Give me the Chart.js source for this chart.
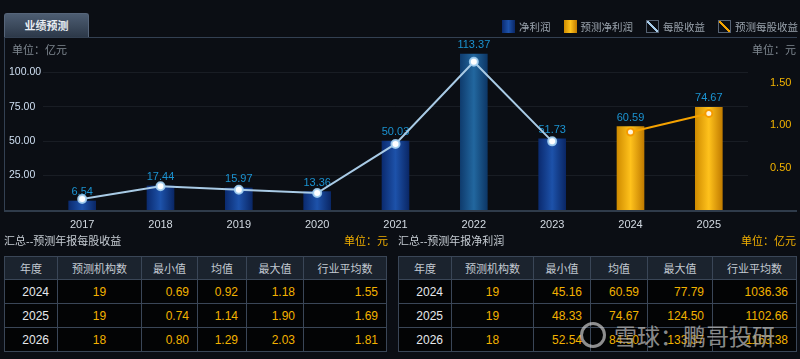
<!DOCTYPE html>
<html>
<head>
<meta charset="utf-8">
<script src="https://cdn.jsdelivr.net/npm/chart.js@4.4.1/dist/chart.umd.min.js"></script>
<style>
  body { margin: 0; background: #0b0e14; width: 800px; height: 359px; overflow: hidden; position: relative;
         font-family: "Liberation Sans", "Noto Sans CJK SC", sans-serif; }
  .abs { position: absolute; white-space: nowrap; }
  .tab { left: 4px; top: 13px; width: 83px; height: 24px; border: 1px solid #56657a; border-bottom: none;
         border-radius: 3px 3px 0 0; background: linear-gradient(#4d5d72, #2b3747);
         color: #e8edf2; font-size: 11px; font-weight: bold; line-height: 24px; text-align: center; }
  .panel { left: 4px; top: 37px; width: 792px; height: 172px; border-top: 1px solid #334052;
           border-left: 1px solid #334052; border-bottom: 2px solid #2f3b4a; }
  /* chart area sits 6px below the canvas top, so the canvas starts at 32 */
  #wrap { position: absolute; left: 0; top: 32px; width: 800px; height: 206px; }
  .unit { color: #7f8891; font-size: 11px; top: 41px; }
  .legend { top: 19px; font-size: 10.5px; color: #9aa3ad; display: flex; align-items: center; }
  .legend span.box { display: inline-block; width: 13px; height: 13px; margin: 0 4px 0 13px; box-sizing: border-box; }
  .caption { top: 232px; font-size: 11px; color: #c6ccd3; }
  .gold { color: #f2b000; }
  table { position: absolute; top: 256px; border-collapse: collapse; table-layout: fixed; font-size: 12px; }
  td, th { border: 1px solid #3a4657; height: 23px; padding: 0 8px; }
  th { background: #1b232e; color: #c3cad2; font-weight: normal; font-size: 11px; text-align: center; height: 22px; }
  td { background: #030405; color: #f2b200; text-align: right; }
  td.yr { color: #e6e9ec; }
  td.cnt { text-align: center; }
  .mark { left: 580px; top: 318px; color: rgba(228,228,228,0.62); font-size: 23px;
          font-family: "Noto Sans CJK SC", sans-serif; text-shadow: 0 0 2px rgba(0,0,0,0.7); display: flex; align-items: center; }
  .mark i { display: inline-block; width: 20px; height: 20px; border: 3px solid rgba(228,228,228,0.62);
            border-radius: 50%; margin-right: 8px; }
</style>
</head>
<body>
<div class="abs tab">业绩预测</div>
<div class="abs panel"></div>
<div id="wrap"><canvas id="perfChart"></canvas></div>

<div class="abs legend" style="left:489px">
  <span class="box" style="background:linear-gradient(90deg,#0b2b70,#1d52aa,#0a2766)"></span>净利润
  <span class="box" style="background:linear-gradient(90deg,#d08c00,#ffc21c,#c27c00)"></span>预测净利润
  <span class="box" style="border:1px solid #566273;background:linear-gradient(to top right,transparent 42%,#a9cdea 44%,#a9cdea 56%,transparent 58%)"></span>每股收益
  <span class="box" style="border:1px solid #566273;background:linear-gradient(to top right,transparent 42%,#f4a300 44%,#f4a300 56%,transparent 58%)"></span>预测每股收益
</div>
<div class="abs unit" style="left:12px">单位：亿元</div>
<div class="abs unit" style="left:752px">单位：元</div>

<div class="abs caption" style="left:4px">汇总--预测年报每股收益</div>
<div class="abs caption gold" style="left:344px">单位：元</div>
<div class="abs caption" style="left:398px">汇总--预测年报净利润</div>
<div class="abs caption gold" style="left:741px">单位：亿元</div>

<table id="epsTable" style="left:4px;width:383px"></table>
<table id="profitTable" style="left:398px;width:398px"></table>

<div class="abs mark"><i></i>雪球：鹏哥投研</div>

<script>
// chart data
const years = ['2017', '2018', '2019', '2020', '2021', '2022', '2023', '2024', '2025'];
const netProfit = [6.54, 17.44, 15.97, 13.36, 50.03, 113.37, 51.73, null, null];
const forecastProfit = [null, null, null, null, null, null, null, 60.59, 74.67];
const eps = [0.13, 0.28, 0.24, 0.20, 0.78, 1.75, 0.81, null, null];
const forecastEps = [null, null, null, null, null, null, null, 0.92, 1.14];

// summary tables
const headers = ['年度', '预测机构数', '最小值', '均值', '最大值', '行业平均数'];
const tableYears = ['2024', '2025', '2026'];
const orgCount = [19, 19, 18];
const epsMin = ['0.69', '0.74', '0.80'];
const epsMean = ['0.92', '1.14', '1.29'];
const epsMax = ['1.18', '1.90', '2.03'];
const epsIndustry = ['1.55', '1.69', '1.81'];
const profitMin = ['45.16', '48.33', '52.54'];
const profitMean = ['60.59', '74.67', '84.50'];
const profitMax = ['77.79', '124.50', '133.37'];
const profitIndustry = ['1036.36', '1102.66', '1163.38'];

function fillTable(id, widths, cols) {
  const t = document.getElementById(id);
  let html = '<colgroup>' + widths.map(w => '<col style="width:' + w + 'px">').join('') + '</colgroup>';
  html += '<tr>' + headers.map(h => '<th>' + h + '</th>').join('') + '</tr>';
  tableYears.forEach((y, i) => {
    html += '<tr><td class="yr">' + y + '</td><td class="cnt">' + orgCount[i] + '</td>' +
      cols.map(c => '<td>' + c[i] + '</td>').join('') + '</tr>';
  });
  t.innerHTML = html;
}
fillTable('epsTable', [53, 84, 56, 49, 57, 83], [epsMin, epsMean, epsMax, epsIndustry]);
fillTable('profitTable', [53, 82, 57, 57, 65, 84], [profitMin, profitMean, profitMax, profitIndustry]);

const numFont = "'Liberation Sans', 'Noto Sans CJK SC', sans-serif";
const topBar = netProfit.indexOf(Math.max(...netProfit.filter(v => v != null)));

function barFill(stops, hiStops) {
  return function (context) {
    const chart = context.chart;
    if (context.type !== 'data' || !chart.chartArea) return stops[1];
    const s = context.dataIndex === topBar && hiStops ? hiStops : stops;
    const x = chart.scales.x.getPixelForValue(context.dataIndex);
    const g = chart.ctx.createLinearGradient(x - 13.5, 0, x + 13.5, 0);
    g.addColorStop(0, s[0]);
    g.addColorStop(0.5, s[1]);
    g.addColorStop(1, s[2]);
    return g;
  };
}

// values over the bars, drawn before the lines
const barLabels = {
  id: 'barLabels',
  afterDatasetDraw(chart, args) {
    if (args.meta.type !== 'bar') return;
    const ds = chart.data.datasets[args.index];
    const c = chart.ctx;
    c.save();
    c.font = '11px ' + numFont;
    c.fillStyle = '#1b93d1';
    c.textAlign = 'center';
    c.textBaseline = 'middle';
    args.meta.data.forEach((el, i) => {
      if (ds.data[i] == null) return;
      c.fillText(ds.data[i].toFixed(2), el.x, el.y - 9);
    });
    c.restore();
  }
};

function keepInner(max) {
  return function (scale) {
    scale.ticks = scale.ticks.filter(t => t.value > 0 && t.value < max - 0.1);
  };
}

new Chart(document.getElementById('perfChart'), {
  data: {
    labels: years,
    datasets: [
      { type: 'line', label: '每股收益', data: eps, yAxisID: 'y1', order: 0,
        borderColor: '#a9cbe6', borderWidth: 2, pointRadius: 4, pointBackgroundColor: '#ffffff',
        pointBorderColor: 'rgba(160,205,240,0.9)', pointBorderWidth: 2 },
      { type: 'line', label: '预测每股收益', data: forecastEps, yAxisID: 'y1', order: 0,
        borderColor: '#f5a200', borderWidth: 2, pointRadius: 3.5, pointBackgroundColor: '#fff4dc',
        pointBorderColor: '#f59a00', pointBorderWidth: 2 },
      { type: 'bar', label: '净利润', data: netProfit, yAxisID: 'y', order: 1, grouped: false,
        barThickness: 27, backgroundColor: barFill(['#0b2b70', '#1d52aa', '#0a2766'], ['#0f3c6e', '#22679f', '#0d3766']) },
      { type: 'bar', label: '预测净利润', data: forecastProfit, yAxisID: 'y', order: 1, grouped: false,
        barThickness: 27, backgroundColor: barFill(['#d08c00', '#ffc21c', '#c27c00']) }
    ]
  },
  options: {
    responsive: true,
    maintainAspectRatio: false,
    animation: false,
    layout: { padding: { left: 9, right: 0, top: 0, bottom: 0 } },
    plugins: { legend: { display: false }, tooltip: { enabled: false } },
    scales: {
      x: {
        grid: { display: false, drawTicks: false },
        border: { display: false },
        ticks: { color: '#d3dae2', font: { size: 11, family: numFont }, padding: 8 },
        afterFit(s) { s.height = 28; s.paddingLeft = 0; s.paddingRight = 0; }
      },
      y: {
        position: 'left', min: 0, max: 125,
        grid: { color: 'rgba(110,120,135,0.14)', drawTicks: false },
        border: { display: false },
        ticks: { stepSize: 25, crossAlign: 'far', color: '#cfdff2', font: { size: 10.5, family: numFont },
                 callback: v => v.toFixed(2) },
        afterBuildTicks: keepInner(125),
        afterFit(s) { s.width = 34; s.paddingTop = 0; s.paddingBottom = 0; }
      },
      y1: {
        position: 'right', min: 0, max: 2.03,
        grid: { display: false, drawTicks: false },
        border: { display: false },
        ticks: { stepSize: 0.5, padding: 22, color: '#f3b300', font: { size: 11, family: numFont },
                 callback: v => v.toFixed(2) },
        afterBuildTicks: keepInner(2.03),
        afterFit(s) { s.width = 52; s.paddingTop = 0; s.paddingBottom = 0; }
      }
    }
  },
  plugins: [barLabels]
});
</script>
</body>
</html>
